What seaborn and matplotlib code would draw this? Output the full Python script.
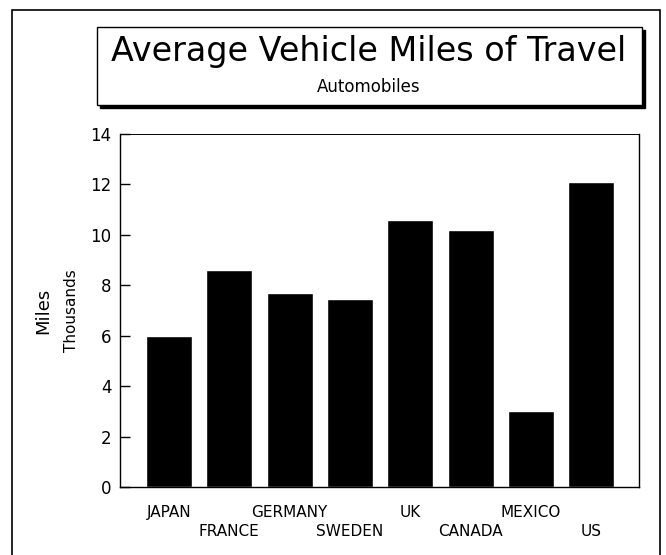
import pandas as pd
import seaborn as sns
import matplotlib.pyplot as plt
from matplotlib.patches import Rectangle

countries = ['JAPAN', 'FRANCE', 'GERMANY', 'SWEDEN', 'UK', 'CANADA', 'MEXICO', 'US']
miles = [6.0, 8.6, 7.7, 7.45, 10.6, 10.2, 3.0, 12.1]
y_ticks = [0, 2, 4, 6, 8, 10, 12, 14]

df = pd.DataFrame({'country': countries, 'miles': miles})

sns.set_style('white')
plt.rcParams['font.family'] = ['DejaVu Sans']
plt.rcParams['text.color'] = 'black'
plt.rcParams['xtick.color'] = 'black'
plt.rcParams['ytick.color'] = 'black'

W, H = 666, 555
fig = plt.figure(figsize=(W / 100, H / 100), dpi=100)

def px(x0, y0, x1, y1):
    # pixel box (top-left origin) -> figure fraction [left, bottom, width, height]
    return [x0 / W, 1 - y1 / H, (x1 - x0) / W, (y1 - y0) / H]

ax = fig.add_axes(px(120, 134, 639, 487))
sns.barplot(data=df, x='country', y='miles', color='black', saturation=1,
            width=0.76, ax=ax)

ax.set_xlim(-0.81, 7.79)
ax.set_ylim(0, 14)
ax.set_yticks(y_ticks)
ax.set_yticklabels([str(t) for t in y_ticks], fontsize=12)
ax.set_xlabel('')
ax.set_ylabel('')

# staggered country labels: even ones as major ticks, odd ones as minor ticks
idx = list(range(len(countries)))
ax.set_xticks(idx[0::2], labels=countries[0::2], fontsize=11)
ax.set_xticks(idx[1::2], labels=countries[1::2], fontsize=11, minor=True)
ax.tick_params(axis='x', which='major', length=0, pad=13)
ax.tick_params(axis='x', which='minor', length=0, pad=27)
ax.tick_params(axis='y', direction='in', length=7, width=1, pad=6, left=True)

for s in ax.spines.values():
    s.set_color('black')
    s.set_linewidth(1)
ax.spines['top'].set_linewidth(0.7)

# y axis titles
fig.text(43 / W, 1 - 311 / H, 'Miles', rotation=90, ha='center', va='center', fontsize=13)
fig.text(72 / W, 1 - 311 / H, 'Thousands', rotation=90, ha='center', va='center', fontsize=11)

# outer frame
b = px(12, 10, 660, 556)
fig.add_artist(Rectangle((b[0], b[1]), b[2], b[3], transform=fig.transFigure,
                         fill=False, edgecolor='black', linewidth=1.2))

# title box with drop shadow
s = px(100, 30, 645, 108)
fig.add_artist(Rectangle((s[0], s[1]), s[2], s[3], transform=fig.transFigure,
                         facecolor='black', edgecolor='black', linewidth=1))
t = px(97, 27, 642, 105)
fig.add_artist(Rectangle((t[0], t[1]), t[2], t[3], transform=fig.transFigure,
                         facecolor='white', edgecolor='black', linewidth=1))

fig.text(369 / W, 1 - 52 / H, 'Average Vehicle Miles of Travel', ha='center', va='center',
         fontsize=24)
fig.text(369 / W, 1 - 87 / H, 'Automobiles', ha='center', va='center', fontsize=12)

fig.savefig('out.png', dpi=100, facecolor='white')
